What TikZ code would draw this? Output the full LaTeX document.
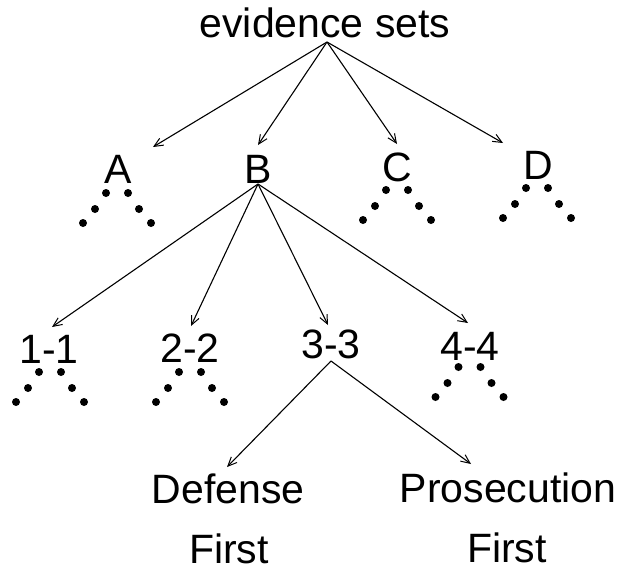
\documentclass[tikz,border=0pt]{standalone}
\usepackage{fontspec}
\setmainfont{Liberation Sans}
\usetikzlibrary{arrows.meta}
\begin{document}
\begin{tikzpicture}[x=1pt,y=-1pt,
  lbl/.style={font=\fontsize{41}{41}\selectfont, anchor=base, inner sep=0pt},
  edge/.style={line width=1.1pt, -{Straight Barb[length=9pt,width=8pt,line width=1pt]}},
  dotfan/.pic={
    \foreach \dx/\dy in {11/0, 22/16, 34/30} {
      \fill (-\dx,\dy) circle[radius=4pt];
      \fill (\dx,\dy) circle[radius=4pt];
    }
  }]
\useasboundingbox (0,0) rectangle (619,573);

% root
\node[lbl] (root) at (325,37) {evidence sets};
\coordinate (root-out) at (327,42);

% first level
\node[lbl] (A) at (118,183) {A};
\node[lbl] (B) at (258,183) {B};
\node[lbl] (C) at (397,181) {C};
\node[lbl] (D) at (538,179.5) {D};
\coordinate (A-in) at (153,147);
\coordinate (B-in) at (258,145);
\coordinate (C-in) at (397,144);
\coordinate (D-in) at (503,143);
\coordinate (B-out) at (258,184);

\draw[edge] (root-out) -- (A-in);
\draw[edge] (root-out) -- (B-in);
\draw[edge] (root-out) -- (C-in);
\draw[edge] (root-out) -- (D-in);

\pic at (117,193) {dotfan};
\pic at (397,190) {dotfan};
\pic at (537,188) {dotfan};

% second level
\node[lbl] (n11) at (49,363) {1-1};
\node[lbl] (n22) at (190,362) {2-2};
\node[lbl] (n33) at (331,358) {3-3};
\node[lbl] (n44) at (470,360) {4-4};
\coordinate (n11-in) at (52,327);
\coordinate (n22-in) at (191,326);
\coordinate (n33-in) at (328,325);
\coordinate (n44-in) at (468,323);
\coordinate (n33-out) at (331,361);

\draw[edge] (B-out) -- (n11-in);
\draw[edge] (B-out) -- (n22-in);
\draw[edge] (B-out) -- (n33-in);
\draw[edge] (B-out) -- (n44-in);

\pic at (50,372) {dotfan};
\pic at (190,372) {dotfan};
\pic at (469.5,367) {dotfan};

% third level
\node[lbl] (def) at (228,503) {Defense};
\node[lbl] (deffirst) at (229,563) {First};
\node[lbl] (pro) at (508,502) {Prosecution};
\node[lbl] (profirst) at (507,562) {First};
\coordinate (def-in) at (227,467);
\coordinate (pro-in) at (471,464);

\draw[edge] (n33-out) -- (def-in);
\draw[edge] (n33-out) -- (pro-in);
\end{tikzpicture}
\end{document}
